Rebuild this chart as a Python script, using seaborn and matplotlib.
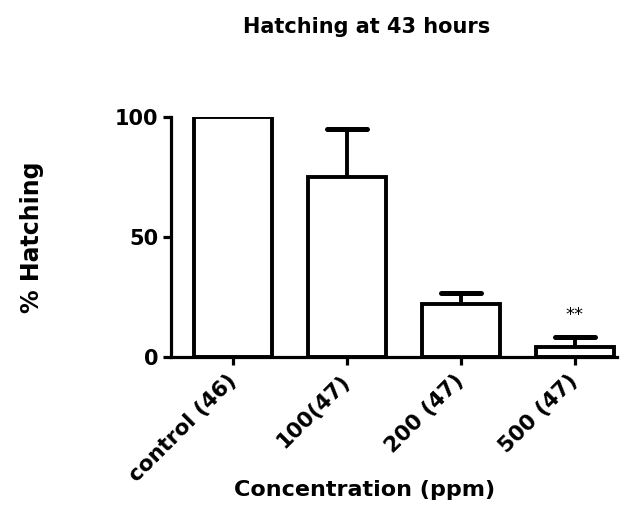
import matplotlib
matplotlib.use("Agg")
import matplotlib.pyplot as plt
import seaborn as sns
import pandas as pd

# Hatching data
categories = ["control (46)", "100(47)", "200 (47)", "500 (47)"]
hatching = [100, 75, 22, 4]
upper_err = [None, 20, 4.5, 4.5]
significance = ["", "", "", "**"]

sns.set_theme(style="ticks")
plt.rcParams["font.family"] = ["DejaVu Sans"]
plt.rcParams["text.color"] = "black"
plt.rcParams["axes.labelcolor"] = "black"

fig = plt.figure(figsize=(6.28, 5.23), dpi=100)
ax = fig.add_axes([0.2723, 0.3174, 0.710, 0.4589])

df = pd.DataFrame({"group": categories, "pct": hatching})
sns.barplot(data=df, x="group", y="pct", order=categories, color="white",
            edgecolor="black", linewidth=2.8, width=0.68, ax=ax,
            errorbar=None, zorder=2)
for p in ax.patches:
    p.set_facecolor("white")
    p.set_edgecolor("black")
    p.set_linewidth(2.8)
    p.set_joinstyle("miter")

# upper-only error bars
cap_half = 0.172
for i, (v, e) in enumerate(zip(hatching, upper_err)):
    if e is None:
        continue
    ax.vlines(i, v, v + e, color="black", linewidth=2.8, zorder=3, clip_on=False)
    ax.hlines(v + e, i - cap_half, i + cap_half, color="black", linewidth=3.6,
              zorder=3, clip_on=False, capstyle="round")

for i, s in enumerate(significance):
    if s:
        ax.text(i, 17.5, s, ha="center", va="center", fontsize=13, color="black")

ax.set_xlim(-0.544, 3.368)
ax.set_ylim(0, 100)
ax.set_yticks([0, 50, 100])
ax.set_yticklabels(["0", "50", "100"])

sns.despine(ax=ax)
for side in ["left", "bottom"]:
    ax.spines[side].set_linewidth(2.3)
    ax.spines[side].set_color("black")

ax.tick_params(axis="y", length=6, width=2.3, labelsize=15, pad=3, colors="black")
ax.tick_params(axis="x", length=6, width=2.3, labelsize=15.5, pad=9, colors="black")
for lab in ax.get_yticklabels():
    lab.set_fontweight("bold")
for lab in ax.get_xticklabels():
    lab.set_fontweight("bold")
    lab.set_rotation(45)
    lab.set_ha("right")
    lab.set_va("center")
    lab.set_rotation_mode("anchor")

ax.set_xlabel("Concentration (ppm)", fontsize=16, fontweight="bold", va="center")
ax.set_ylabel("% Hatching", fontsize=17, fontweight="bold", va="center")
ax.xaxis.set_label_coords(0.435, -0.554)
ax.yaxis.set_label_coords(-0.312, 0.5)
fig.text(0.584, 0.948, "Hatching at 43 hours", ha="center", va="center",
         fontsize=15, fontweight="bold")

fig.savefig("out.png", dpi=100)
